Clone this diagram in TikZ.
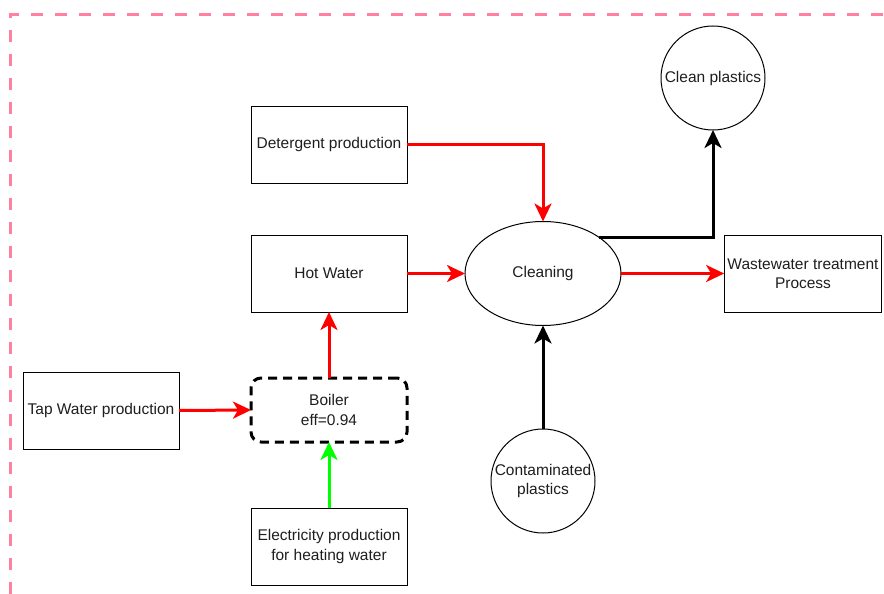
\documentclass[tikz,border=0pt]{standalone}
\usepackage{fontspec}
\setmainfont{Liberation Sans}
\usepackage{tikz}
\usetikzlibrary{arrows.meta,shapes.geometric}
\definecolor{framepink}{RGB}{255,128,160}
\definecolor{flowred}{RGB}{255,0,0}
\definecolor{flowgreen}{RGB}{0,255,0}
\definecolor{labelgrey}{RGB}{30,30,30}

\begin{document}
\begin{tikzpicture}[x=1pt,y=-1pt,font=\fontsize{15.5pt}{19.5pt}\selectfont,text=labelgrey,
  procbox/.style={rectangle,draw,line width=1pt,minimum width=156pt,minimum height=77pt,align=center,outer sep=0pt},
  roundbox/.style={rectangle,draw,line width=3pt,dash pattern=on 9pt off 6pt,rounded corners=10pt,minimum width=156pt,minimum height=64pt,align=center,outer sep=0pt},
  blob/.style={ellipse,draw,line width=1pt,minimum width=156pt,minimum height=104pt,align=center,outer sep=0pt,inner sep=0pt},
  ball/.style={circle,draw,line width=1pt,minimum size=104pt,align=center,outer sep=0pt,inner sep=0pt},
  flow/.style n args={1}{#1,line width=3pt,-{Stealth[length=18pt,width=17pt,inset=5pt]}}]
\useasboundingbox (0,0) rectangle (884,594);
% outer frame
\draw[framepink,line width=3pt,dash pattern=on 12pt off 12pt] (10,594) -- (10,15) -- (884,15);
% nodes
\node[procbox] (detergent) at (329,144.5) {Detergent production};
\node[procbox] (hotwater) at (329,273.5) {Hot Water};
\node[roundbox] (boiler) at (329,410) {Boiler\\eff=0.94};
\node[procbox] (tapwater) at (101,410.5) {Tap Water production};
\node[procbox] (electricity) at (329,546.5) {Electricity production\\for heating water};
\node[blob] (cleaning) at (543,273.5) {Cleaning};
\node[ball] (cleanpl) at (713,78) {Clean plastics};
\node[procbox] (wastewater) at (803,273.5) {Wastewater treatment\\Process};
\node[ball] (contpl) at (543,481) {Contaminated\\plastics};
% flows
\draw[flow=flowred] (detergent.east) -| (cleaning.north);
\draw[flow=flowred] (hotwater.east) -- (cleaning.west);
\draw[flow=flowred] (cleaning.east) -- (wastewater.west);
\draw[flow=black] (cleaning.33) -| (cleanpl.south);
\draw[flow=black] (contpl.north) -- (cleaning.south);
\draw[flow=flowred] (tapwater.east) -- (boiler.west);
\draw[flow=flowred] (boiler.north) -- (hotwater.south);
\draw[flow=flowgreen] (electricity.north) -- (boiler.south);
\end{tikzpicture}
\end{document}
